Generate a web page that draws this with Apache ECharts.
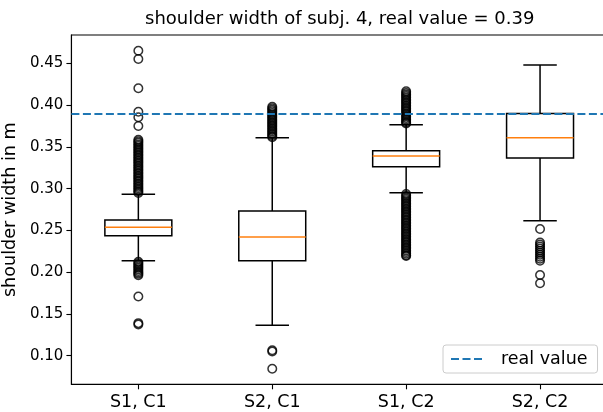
<!DOCTYPE html>
<html>
<head>
<meta charset="utf-8">
<script src="https://cdn.jsdelivr.net/npm/echarts@6/dist/echarts.min.js"></script>
<style>html,body{margin:0;padding:0;background:#fff}#c{width:603px;height:412px}</style>
</head>
<body>
<div id="c"></div>
<script>
// ---- data ----
const categories = ['S1, C1', 'S2, C1', 'S1, C2', 'S2, C2'];
const whiskerLow  = [0.2137, 0.1364, 0.2951, 0.2616];
const q1          = [0.2436, 0.2137, 0.3262, 0.3366];
const median      = [0.2537, 0.2421, 0.3390, 0.3610];
const q3          = [0.2624, 0.2732, 0.3454, 0.3900];
const whiskerHigh = [0.2932, 0.3610, 0.3765, 0.4480];
const outliersS1C1 = [0.4651, 0.4551, 0.4201, 0.3921, 0.3854, 0.3749,
  0.3585, 0.3566, 0.3548, 0.3527, 0.3509, 0.3488, 0.3470, 0.3451, 0.3432, 0.3411,
  0.3393, 0.3372, 0.3354, 0.3333, 0.3315, 0.3296, 0.3274, 0.3256, 0.3236, 0.3218,
  0.3197, 0.3179, 0.3158, 0.3140, 0.3121, 0.3100, 0.3082, 0.3061, 0.3043, 0.3022,
  0.3004, 0.2985, 0.2966, 0.2948,
  0.2125, 0.2108, 0.2089, 0.2071, 0.2052, 0.2034, 0.2015, 0.1997, 0.1980, 0.1963,
  0.1710, 0.1390, 0.1375];
const outliersS2C1 = [0.3980, 0.3962, 0.3943, 0.3925, 0.3906, 0.3888, 0.3869, 0.3851,
  0.3832, 0.3814, 0.3795, 0.3777, 0.3758, 0.3740, 0.3721, 0.3703, 0.3684, 0.3666,
  0.3647, 0.3629, 0.3615,
  0.1065, 0.1050, 0.0844];
const outliersS1C2 = [0.4165, 0.4146, 0.4127, 0.4108, 0.4090, 0.4071, 0.4052, 0.4034,
  0.4015, 0.3996, 0.3978, 0.3959, 0.3940, 0.3922, 0.3903, 0.3884, 0.3866, 0.3847,
  0.3828, 0.3810, 0.3791, 0.3780,
  0.2935, 0.2916, 0.2897, 0.2878, 0.2860, 0.2841, 0.2822, 0.2803, 0.2785, 0.2766,
  0.2747, 0.2729, 0.2710, 0.2691, 0.2672, 0.2654, 0.2635, 0.2616, 0.2597, 0.2579,
  0.2560, 0.2541, 0.2522, 0.2504, 0.2485, 0.2466, 0.2448, 0.2429, 0.2410, 0.2391,
  0.2372, 0.2354, 0.2335, 0.2316, 0.2297, 0.2279, 0.2260, 0.2241, 0.2222, 0.2203, 0.2195];
const outliersS2C2 = [0.2516, 0.2356, 0.2331, 0.2307, 0.2282, 0.2258, 0.2234, 0.2209,
  0.2185, 0.2161, 0.2137, 0.1966, 0.1867];
const realValue = 0.39;
const yTickLabels = [0.10, 0.15, 0.20, 0.25, 0.30, 0.35, 0.40, 0.45];
const yMin = 0.0658, yMax = 0.4839;

// ---- build ----
const FONT = 'DejaVu Sans';
const boxData = categories.map((c, i) => [i, whiskerLow[i], q1[i], median[i], q3[i], whiskerHigh[i]]);
const allOutliers = [outliersS1C1, outliersS2C1, outliersS1C2, outliersS2C2];
const flierData = [];
allOutliers.forEach((arr, i) => arr.forEach(v => flierData.push([i, v])));

function renderBox(params, api) {
  const i = api.value(0);
  const band = api.size([1, 0])[0];
  const cx = api.coord([i, api.value(3)])[0];
  const yWL = api.coord([i, api.value(1)])[1];
  const yQ1 = api.coord([i, api.value(2)])[1];
  const yMed = api.coord([i, api.value(3)])[1];
  const yQ3 = api.coord([i, api.value(4)])[1];
  const yWH = api.coord([i, api.value(5)])[1];
  const bw = band * 0.5, cw = band * 0.25;
  const st = {stroke: '#000', lineWidth: 1.5, fill: null};
  return {
    type: 'group',
    children: [
      {type: 'line', shape: {x1: cx, y1: yQ1, x2: cx, y2: yWL}, style: st},
      {type: 'line', shape: {x1: cx, y1: yQ3, x2: cx, y2: yWH}, style: st},
      {type: 'line', shape: {x1: cx - cw / 2, y1: yWL, x2: cx + cw / 2, y2: yWL}, style: st},
      {type: 'line', shape: {x1: cx - cw / 2, y1: yWH, x2: cx + cw / 2, y2: yWH}, style: st},
      {type: 'rect', shape: {x: cx - bw / 2, y: yQ3, width: bw, height: yQ1 - yQ3}, style: {stroke: '#000', lineWidth: 1.5, fill: 'none'}},
      {type: 'line', shape: {x1: cx - bw / 2, y1: yMed, x2: cx + bw / 2, y2: yMed}, style: {stroke: '#ff7f0e', lineWidth: 1.5}}
    ]
  };
}

const chart = echarts.init(document.getElementById('c'), null, {renderer: 'canvas'});
chart.setOption({
  animation: false,
  backgroundColor: '#fff',
  title: {
    text: 'shoulder width of subj. 4, real value = 0.39',
    left: 145, top: 10, padding: 0,
    textStyle: {fontFamily: FONT, fontSize: 18, fontWeight: 'normal', color: '#000'}
  },
  legend: {
    data: ['real value'],
    left: 443, top: 345,
    padding: [5, 10, 5, 7],
    itemWidth: 33, itemHeight: 14,
    itemStyle: {opacity: 0},
    backgroundColor: 'rgba(255,255,255,0.8)',
    borderColor: '#cccccc', borderWidth: 1, borderRadius: 3,
    textStyle: {fontFamily: FONT, fontSize: 17.5, color: '#000', padding: [0, 0, 0, 12]}
  },
  grid: {left: 71.4, right: -4, top: 35, bottom: 27.7, show: true, borderColor: '#000', borderWidth: 1.1,
         containLabel: false, outerBoundsMode: 'none'},
  xAxis: {
    type: 'category', data: categories, boundaryGap: true,
    axisLine: {show: true, lineStyle: {color: '#000', width: 1.1}},
    axisTick: {show: true, alignWithLabel: true, length: 5, lineStyle: {color: '#000', width: 1.1}},
    axisLabel: {margin: 9.5, fontFamily: FONT, fontSize: 17.5, color: '#000'},
    splitLine: {show: false}
  },
  yAxis: {
    type: 'value', min: yMin, max: yMax,
    name: 'shoulder width in m', nameLocation: 'middle', nameGap: 51,
    nameTextStyle: {fontFamily: FONT, fontSize: 17.6, color: '#000'},
    axisLine: {show: true, lineStyle: {color: '#000', width: 1.1}},
    axisTick: {show: true, length: 5, customValues: yTickLabels, lineStyle: {color: '#000', width: 1.1}},
    axisLabel: {margin: 8, customValues: yTickLabels, formatter: v => v.toFixed(2), fontFamily: FONT, fontSize: 15, color: '#000'},
    splitLine: {show: false}
  },
  series: [
    {type: 'custom', name: 'box', renderItem: renderBox, data: boxData, z: 2, silent: true},
    {type: 'scatter', name: 'fliers', data: flierData, symbol: 'circle', symbolSize: 8.5,
     itemStyle: {color: 'rgba(0,0,0,0)', borderColor: '#000', borderWidth: 1.5}, z: 3, silent: true},
    {type: 'line', name: 'real value', data: [], symbol: 'none',
     lineStyle: {color: '#1f77b4', width: 2, type: [8, 3.5]},
     itemStyle: {color: '#1f77b4'},
     markLine: {silent: true, symbol: 'none', label: {show: false},
       lineStyle: {color: '#1f77b4', width: 2, type: [8, 3.5]},
       data: [{yAxis: realValue}]}, z: 5}
  ]
});
</script>
</body>
</html>
